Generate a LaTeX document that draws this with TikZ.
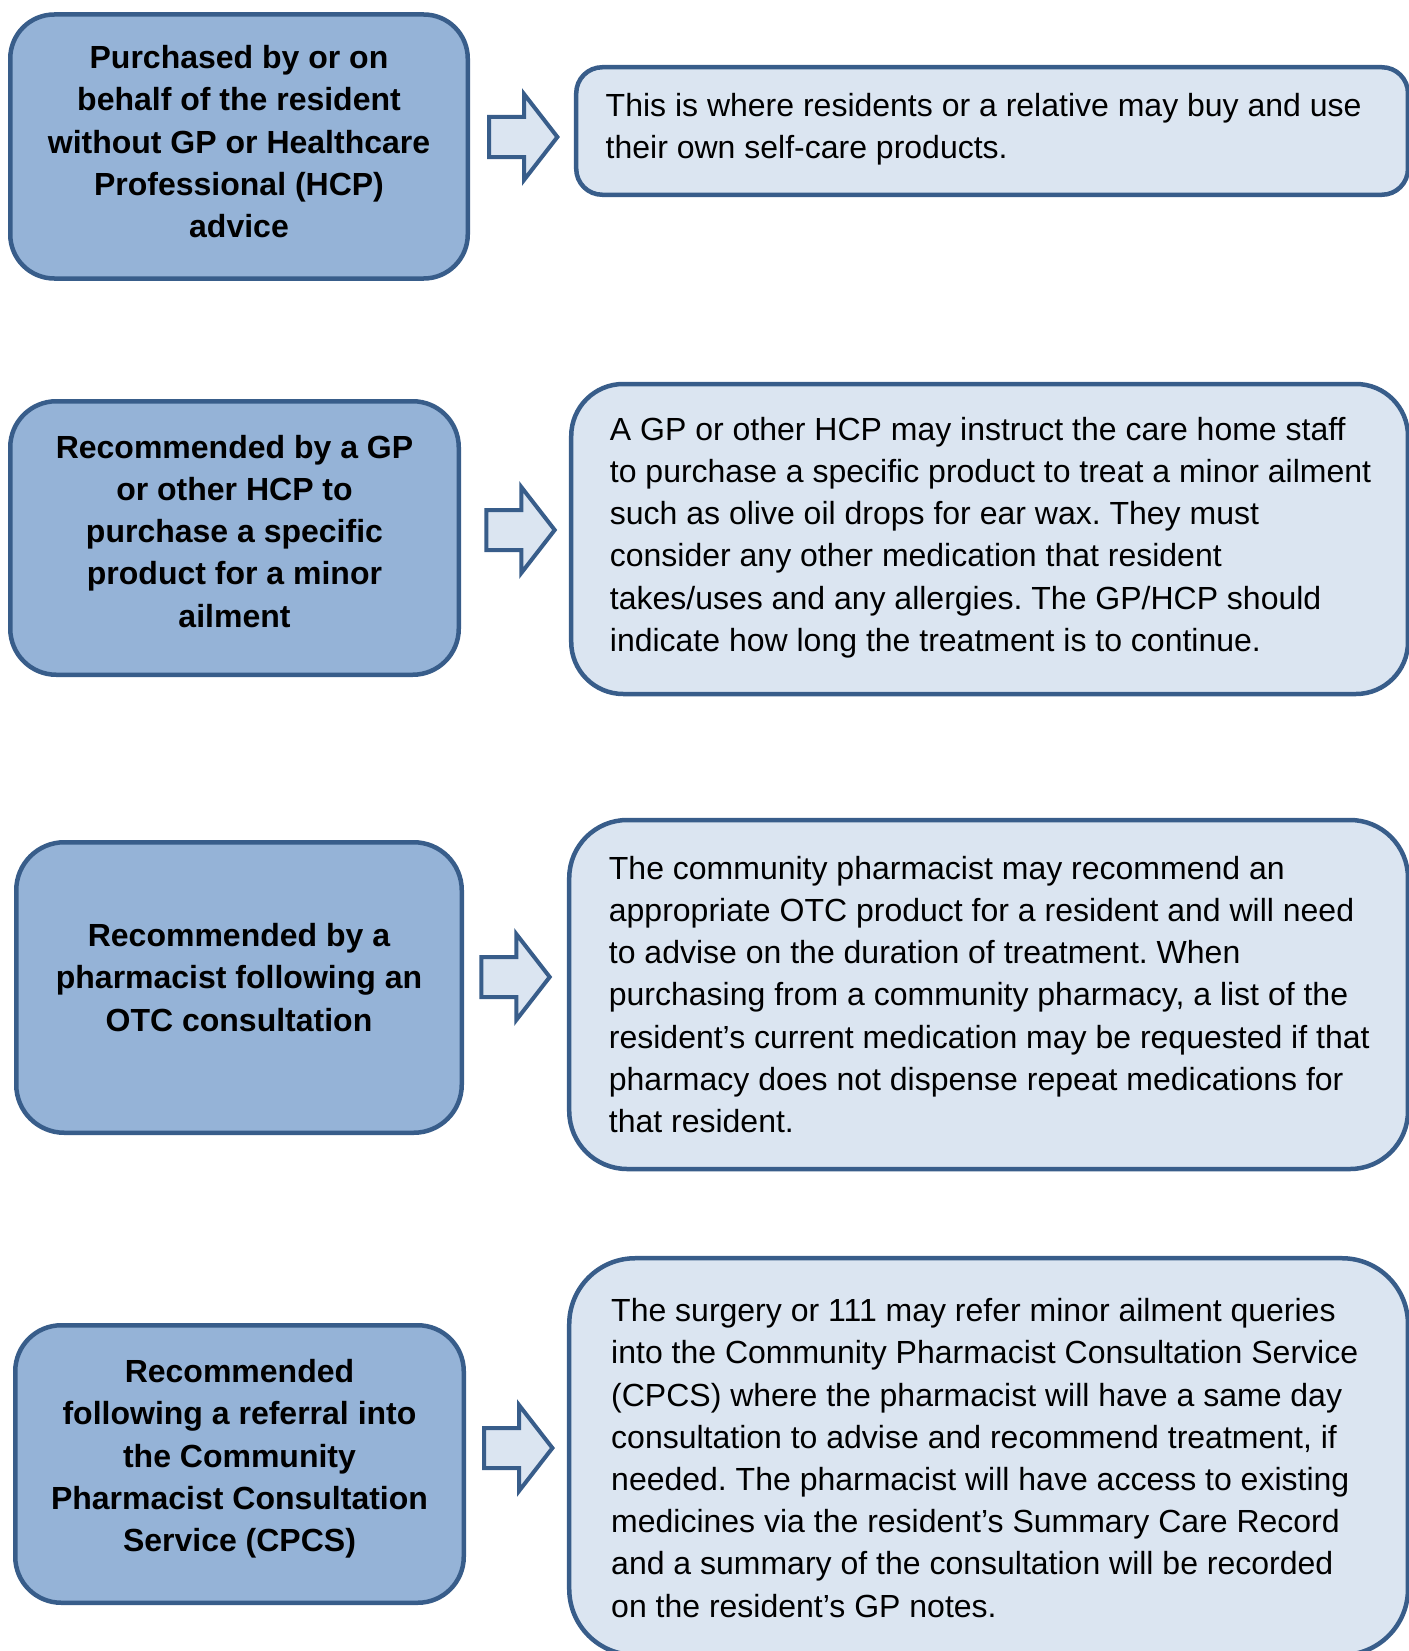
\documentclass[tikz,border=0pt]{standalone}
\usepackage{fontspec}
\setmainfont{Liberation Sans}
\definecolor{boxblue}{HTML}{95B3D7}
\definecolor{paleblue}{HTML}{DBE5F1}
\definecolor{edgeblue}{HTML}{385D8A}

\begin{document}
\begin{tikzpicture}[x=1pt, y=-1pt,
  lbox/.style={draw=edgeblue, fill=boxblue, line width=4.5pt, inner sep=0pt},
  rbox/.style={draw=edgeblue, fill=paleblue, line width=4.5pt, inner sep=0pt},
  ltext/.style={anchor=north, align=center, inner sep=0pt, font=\fontsize{32}{42.2}\selectfont\bfseries\frenchspacing},
  rtext/.style={anchor=north west, align=left, inner sep=0pt, font=\fontsize{32}{42.2}\selectfont\frenchspacing},
  blockarr/.style={draw=edgeblue, fill=paleblue, line width=4pt}]
  \useasboundingbox (0,0) rectangle (1408,1651);
  \fill[white] (0,0) rectangle (1408,1651);

  % left column
  \node[lbox, rounded corners=44pt, minimum width=457.5pt, minimum height=264pt] (l1) at (239,146.5) {};
  \node[lbox, rounded corners=46pt, minimum width=448.5pt, minimum height=273.5pt] (l2) at (234.5,538) {};
  \node[lbox, rounded corners=48pt, minimum width=445.5pt, minimum height=290.5pt] (l3) at (239,987.5) {};
  \node[lbox, rounded corners=46pt, minimum width=448.5pt, minimum height=277.5pt] (l4) at (239.5,1464) {};

  \node[ltext] (l1t) at (239,39) {\strut Purchased by or on\\ behalf of the resident\\
    without GP or Healthcare\\ Professional (HCP)\\ advice\strut};
  \node[ltext] (l2t) at (234.5,428.5) {\strut Recommended by a GP\\ or other HCP to\\
    purchase a specific\\ product for a minor\\ ailment\strut};
  \node[ltext] (l3t) at (239,917) {\strut Recommended by a\\ pharmacist following an\\
    OTC consultation\strut};
  \node[ltext] (l4t) at (239.5,1353) {\strut Recommended\\ following a referral into\\
    the Community\\ Pharmacist Consultation\\ Service (CPCS)\strut};

  % right column
  \node[rbox, rounded corners=26pt, minimum width=831.75pt, minimum height=127.5pt] (r1) at (992.1,131) {};
  \node[rbox, rounded corners=52pt, minimum width=836.75pt, minimum height=310pt] (r2) at (989.6,539) {};
  \node[rbox, rounded corners=58pt, minimum width=838.75pt, minimum height=349pt] (r3) at (988.6,994.5) {};
  \node[rbox, rounded corners=66pt, minimum width=838.75pt, minimum height=396.75pt] (r4) at (988.6,1456.6) {};

  \node[rtext] (r1t) at (605.5,87) {\strut This is where residents or a relative may buy and use\\
    their own self-care products.\strut};
  \node[rtext] (r2t) at (609.7,410.5) {\strut A GP or other HCP may instruct the care home staff\\
    to purchase a specific product to treat a minor ailment\\
    such as olive oil drops for ear wax. They must\\
    consider any other medication that resident\\
    takes/uses and any allergies. The GP/HCP should\\
    indicate how long the treatment is to continue.\strut};
  \node[rtext] (r3t) at (608.7,849.5) {\strut The community pharmacist may recommend an\\
    appropriate OTC product for a resident and will need\\
    to advise on the duration of treatment. When\\
    purchasing from a community pharmacy, a list of the\\
    resident’s current medication may be requested if that\\
    pharmacy does not dispense repeat medications for\\
    that resident.\strut};
  \node[rtext] (r4t) at (611,1292) {\strut The surgery or 111 may refer minor ailment queries\\
    into the Community Pharmacist Consultation Service\\
    (CPCS) where the pharmacist will have a same day\\
    consultation to advise and recommend treatment, if\\
    needed. The pharmacist will have access to existing\\
    medicines via the resident’s Summary Care Record\\
    and a summary of the consultation will be recorded\\
    on the resident’s GP notes.\strut};

  % block arrows
  \foreach \ax/\ay in {489/137, 486.3/530, 481.3/977, 484/1448}
    \draw[blockarr] (\ax,\ay-20) -- ++(35,0) -- ++(0,-23) -- ++(33.4,43)
      -- ++(-33.4,43) -- ++(0,-23) -- ++(-35,0) -- cycle;
\end{tikzpicture}
\end{document}
